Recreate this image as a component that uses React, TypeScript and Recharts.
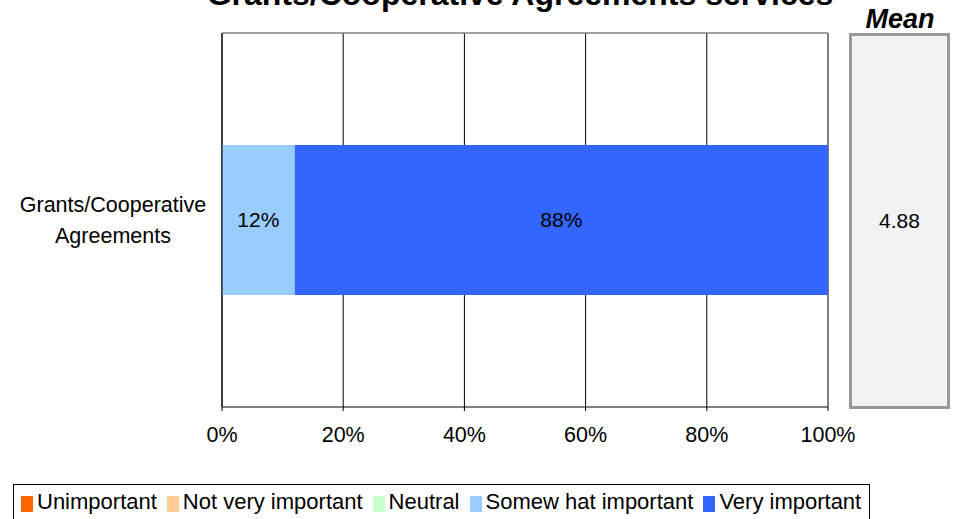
import { BarChart, Bar, XAxis, YAxis, CartesianGrid, LabelList } from 'recharts';

const categories = ['Grants/Cooperative Agreements'];
const seriesNames = ['Unimportant', 'Not very important', 'Neutral', 'Somew hat important', 'Very important'];
const seriesColors = ['#ff6600', '#ffcc99', '#ccffcc', '#99ccff', '#3366ff'];
const seriesValues = [[0], [0], [0], [12], [88]];
const meanValues = ['4.88'];
const xTicks = [0, 20, 40, 60, 80, 100];

const data = categories.map((name, i) => {
  const row: Record<string, string | number> = { name };
  seriesNames.forEach((s, k) => {
    row[`s${k}`] = seriesValues[k][i];
  });
  return row;
});

const FONT = '"Liberation Sans", Arial, sans-serif';

// two-line category label
function CategoryTick({ y, payload }: any) {
  const words = String(payload.value).split(' ');
  return (
    <text x={113} y={y} textAnchor="middle" fontSize={21.5} fontFamily={FONT} fill="#000">
      {words.map((w, i) => (
        <tspan key={i} x={113} dy={i === 0 ? -(words.length - 1) * 15.5 + 7 : 31}>
          {w}
        </tspan>
      ))}
    </text>
  );
}

export default function App() {
  return (
    <div style={{ position: 'absolute', left: 0, top: 0, width: 955, height: 519, overflow: 'hidden', background: '#fff', fontFamily: FONT }}>
      <div style={{ position: 'absolute', left: 0, width: 1040, top: -26, textAlign: 'center', fontSize: 32, fontWeight: 'bold', lineHeight: '40px', whiteSpace: 'nowrap' }}>
        Grants/Cooperative Agreements services
      </div>

      <BarChart
        width={955}
        height={519}
        data={data}
        layout="vertical"
        margin={{ top: 33, right: 127, bottom: 82, left: 0 }}
        style={{ position: 'absolute', left: 0, top: 0 }}
      >
        <CartesianGrid horizontal={false} stroke="#000" strokeWidth={1} />
        <CartesianGrid vertical={false} horizontalPoints={[33]} stroke="#808080" strokeWidth={1.5} />
        <XAxis
          type="number"
          domain={[0, 100]}
          ticks={xTicks}
          tickFormatter={(v) => `${v}%`}
          stroke="#000"
          height={30}
          tickSize={4}
          tickMargin={16}
          tick={{ fontSize: 21.5, fill: '#000', fontFamily: FONT }}
          interval={0}
        />
        <YAxis
          type="category"
          dataKey="name"
          stroke="#000"
          tickLine={false}
          width={222}
          tick={<CategoryTick />}
        />
        {seriesNames.map((s, k) => (
          <Bar key={s} dataKey={`s${k}`} name={s} stackId="a" fill={seriesColors[k]} barSize={150} isAnimationActive={false}>
            <LabelList
              dataKey={`s${k}`}
              position="center"
              fill="#000"
              fontSize={21}
              fontFamily={FONT}
              formatter={(v: any) => (v > 0 ? `${v}%` : '')}
            />
          </Bar>
        ))}
      </BarChart>

      {/* Mean column */}
      <div style={{ position: 'absolute', left: 850, top: 4, width: 100, textAlign: 'center', fontSize: 27, fontWeight: 'bold', fontStyle: 'italic' }}>
        Mean
      </div>
      {meanValues.map((m) => (
        <div
          key={m}
          style={{
            position: 'absolute',
            left: 849,
            top: 33,
            width: 95,
            height: 370,
            background: '#f2f2f2',
            border: '3px solid #999',
            display: 'flex',
            alignItems: 'center',
            justifyContent: 'center',
            fontSize: 21,
          }}
        >
          {m}
        </div>
      ))}

      {/* Legend */}
      <div
        style={{
          position: 'absolute',
          left: 13,
          top: 484,
          width: 857,
          height: 44,
          border: '1px solid #000',
          display: 'flex',
          alignItems: 'flex-start',
          paddingTop: 4,
          paddingLeft: 7,
          boxSizing: 'border-box',
          fontSize: 22,
          whiteSpace: 'nowrap',
        }}
      >
        {seriesNames.map((s, k) => (
          <div key={s} style={{ display: 'flex', alignItems: 'center', marginRight: 10 }}>
            <span style={{ display: 'inline-block', width: 12, height: 16, background: seriesColors[k], marginRight: 4, marginTop: 4 }} />
            <span>{s}</span>
          </div>
        ))}
      </div>
    </div>
  );
}
